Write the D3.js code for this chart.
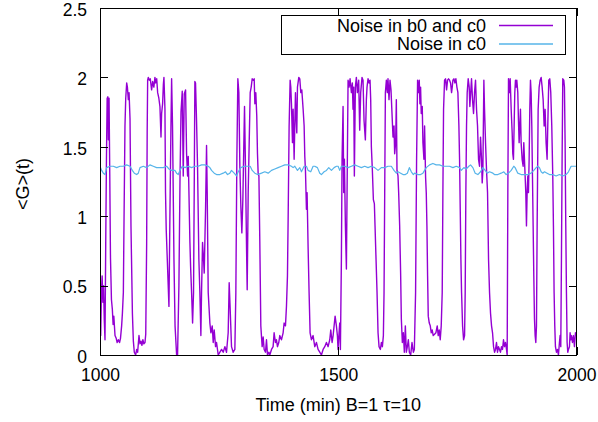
<!DOCTYPE html>
<html lang="en">
<head>
<meta charset="UTF-8">
<title>Noise G(t)</title>
<script src="https://d3js.org/d3.v7.min.js"></script>
<style>
    body { margin: 0; background: #fff; }
    svg { display: block; font-family: "Liberation Sans", Arial, sans-serif; }
</style>
</head>
<body>
<svg id="chart" width="598" height="422"></svg>
<script>
// time (min), <G>(t)
const noiseB0C0 = [
  [1000,0.21],[1001.5,0.14],[1003,0.45],[1004.5,0.57],[1006,0.38],[1007.5,0.5],[1009,0.25],[1010.5,0.11],
  [1012,0.8],[1013.5,1.4],[1015,1.85],[1016.5,1.86],[1017.5,1.55],[1019,1.85],[1020.5,1.3],[1022,0.7],
  [1024,0.4],[1025.9,0.33],[1027.5,0.22],[1029,0.28],[1031.5,0.14],[1034,0.12],[1036,0.09],[1038.4,0.11],
  [1041,0.09],[1043,0.12],[1045.4,0.21],[1047,0.3],[1049,0.45],[1050.5,1.0],[1052.4,1.65],[1054,1.85],
  [1056,1.96],[1057.5,1.93],[1059.4,1.84],[1061,1.89],[1063,1.7],[1065,0.93],[1068,0.3],[1070,0.1],
  [1072,0.02],[1074.8,0.0],[1077,0.04],[1079,0.02],[1081.8,0.14],[1084,0.08],[1086,0.1],[1088,0.07],
  [1090,0.11],[1092,0.08],[1094.4,0.09],[1096,0.15],[1097.9,0.8],[1099,1.6],[1100,1.98],[1101.4,2.0],
  [1103.5,1.98],[1105.5,1.99],[1108.3,1.91],[1110.5,1.97],[1113,1.93],[1115.3,2.0],[1117,1.96],[1119,1.99],
  [1121,1.89],[1123.5,1.85],[1125.8,1.79],[1128,1.57],[1129.3,1.74],[1131.4,1.81],[1133,1.95],[1134.2,2.0],
  [1136.3,1.77],[1137.5,1.17],[1139,0.9],[1141.2,0.69],[1144.7,0.35],[1146.5,0.93],[1148.9,1.65],[1150.3,1.99],
  [1152.2,1.65],[1155.2,0.69],[1157.5,0.21],[1160.8,0.0],[1162.8,0.0],[1165.6,0.5],[1168,1.3],[1170,1.75],
  [1172.6,1.9],[1174.7,1.29],[1176.8,1.88],[1179.6,1.91],[1181.7,1.45],[1183.8,1.29],[1185.2,1.43],[1188.7,0.81],
  [1190.1,0.64],[1192.2,0.45],[1194.3,0.23],[1196.3,0.45],[1197.7,1.17],[1199.1,1.97],[1200.5,1.96],[1202.6,1.69],
  [1204.7,1.36],[1207.5,0.69],[1209.6,0.45],[1211.7,0.14],[1213.1,0.45],[1215.2,0.81],[1217.3,0.69],[1218.7,0.59],
  [1221.5,1.05],[1223.6,1.51],[1225,1.17],[1227.1,0.45],[1230.6,0.23],[1232.7,0.16],[1235.5,0.21],[1237.6,0.09],
  [1239.7,0.18],[1242.5,0.06],[1244.6,0.09],[1248.1,0.0],[1251.6,0.02],[1255.1,0.04],[1258.6,0.02],[1262.1,0.06],
  [1265.5,0.02],[1269,0.16],[1271.1,0.52],[1273.2,0.33],[1276,0.06],[1279.5,0.02],[1283,0.04],[1285.1,0.45],
  [1287.2,1.41],[1289.3,1.99],[1291.4,1.89],[1293.5,1.36],[1295.6,1.07],[1297.7,0.88],[1299.8,1.12],[1301.9,1.53],
  [1303.3,1.79],[1305.4,1.33],[1307.5,0.78],[1308.9,0.47],[1311,1.17],[1313.1,1.53],[1315.2,1.89],[1317.3,1.93],
  [1319.4,1.99],[1321.5,1.98],[1323.6,1.99],[1325,1.81],[1327,1.89],[1329,1.72],[1330.5,1.45],[1331.9,1.31],
  [1333.5,1.29],[1335.4,0.81],[1337.5,0.21],[1340.3,0.06],[1342.4,0.13],[1344.5,0.04],[1347.3,0.02],[1349.4,0.11],
  [1351.5,0.0],[1354.3,0.02],[1356.4,0.0],[1359.9,0.04],[1363.3,0.06],[1365.4,0.16],[1368.2,0.09],[1370.3,0.11],
  [1372.4,0.06],[1375.2,0.09],[1377.3,0.14],[1380.8,0.11],[1384.3,0.16],[1386.4,0.23],[1389.2,0.21],[1391.3,0.35],
  [1393.4,0.57],[1394.8,0.97],[1396.9,1.65],[1399,1.98],[1400.4,1.93],[1401.8,1.81],[1403.9,1.53],[1405.3,1.77],
  [1407.4,1.41],[1408.8,1.65],[1410.2,1.89],[1411.6,1.72],[1413,1.6],[1414.4,1.93],[1417.2,2.0],[1419.3,1.99],
  [1421.4,1.89],[1423.5,1.91],[1426.3,1.77],[1428.4,1.65],[1429.8,1.43],[1431.2,1.33],[1433.2,1.05],[1434.6,1.17],
  [1436.7,0.78],[1438.8,0.45],[1440.9,0.16],[1443.7,0.11],[1447.2,0.14],[1450.7,0.06],[1454.2,0.09],[1457.7,0.04],
  [1461.2,0.02],[1464.7,0.0],[1468.2,0.04],[1471.7,0.06],[1475.2,0.09],[1478.7,0.06],[1482.2,0.11],[1484.3,0.18],
  [1487.1,0.09],[1489.2,0.14],[1491.3,0.21],[1493.4,0.28],[1496.1,0.21],[1498.2,0.14],[1499.6,0.04],[1501.7,0.16],
  [1503.1,0.23],[1504.5,0.04],[1506.6,0.69],[1508,1.41],[1510.1,1.79],[1511.5,1.17],[1512.9,1.41],[1515,0.93],
  [1517.1,0.62],[1518.5,1.17],[1520.6,1.98],[1522.7,1.93],[1524.8,1.99],[1527.6,1.89],[1529.6,1.96],[1531,1.77],
  [1532.4,1.93],[1533.8,1.29],[1535.9,1.93],[1538,2.0],[1540.1,1.89],[1542.9,1.98],[1545,1.62],[1547.1,1.89],
  [1549.9,2.0],[1552,1.98],[1554.1,1.69],[1556.9,1.55],[1559,1.84],[1560.4,1.93],[1562.5,1.99],[1564.6,1.96],
  [1566.7,1.98],[1568.1,1.84],[1569.5,1.5],[1571.6,1.33],[1573.7,1.12],[1575.8,1.09],[1577.2,0.93],[1579.3,0.69],
  [1581.4,0.45],[1583.5,0.16],[1585.6,0.06],[1588.4,0.04],[1590.5,0.09],[1592.6,0.06],[1594.7,0.14],[1596.1,0.45],
  [1597.5,1.17],[1598.9,1.89],[1601,1.98],[1603,1.89],[1604.4,1.99],[1606.5,1.84],[1608.6,1.98],[1610.7,1.91],
  [1612.8,1.74],[1614.9,1.57],[1617,1.65],[1618.4,1.45],[1620.5,1.53],[1621.9,1.84],[1623.3,1.33],[1625.4,1.29],
  [1626.8,1.17],[1628.9,0.93],[1631,0.57],[1632.4,0.26],[1634.5,0.09],[1636.6,0.16],[1638.7,0.02],[1640.8,0.21],
  [1642.9,0.02],[1645,0.06],[1647.1,0.11],[1649.2,0.02],[1652,0.0],[1654.8,0.09],[1657.6,0.02],[1659.7,0.04],
  [1662.3,0.45],[1664.4,1.41],[1666.5,1.98],[1668.6,1.89],[1670,1.98],[1671.4,1.81],[1672.8,1.93],[1674.2,1.74],
  [1676.3,1.79],[1677.7,1.53],[1679.8,1.41],[1681.2,1.65],[1683.3,1.28],[1684.7,1.17],[1686.1,0.93],[1687.5,0.57],
  [1688.9,0.28],[1691,0.23],[1693.1,0.21],[1695.2,0.16],[1697.2,0.18],[1699.3,0.14],[1702.1,0.15],[1704.9,0.16],
  [1707.7,0.21],[1709.8,0.14],[1711.9,0.18],[1714,0.11],[1716.1,0.21],[1718.2,0.45],[1719.6,1.17],[1721,1.77],
  [1723.1,1.98],[1725.2,1.99],[1727.3,1.91],[1729.4,1.98],[1731.5,1.99],[1733.6,1.98],[1735.7,1.96],[1737.8,1.89],
  [1739.2,1.93],[1740.6,1.98],[1742.7,1.99],[1744.8,1.96],[1746.9,1.99],[1749,1.93],[1751.1,1.89],[1753.2,1.65],
  [1754.6,1.41],[1756,1.05],[1757.4,0.69],[1758.8,0.45],[1760.9,0.21],[1763,0.11],[1765.1,0.14],[1766.4,0.45],
  [1767.8,1.17],[1769.2,1.65],[1770.6,1.89],[1772.7,1.99],[1774.8,1.93],[1776.2,1.79],[1778.3,1.91],[1779.7,1.99],
  [1781.8,1.84],[1783.9,1.74],[1786,1.89],[1788.1,1.98],[1790.2,1.77],[1792.3,1.65],[1794.4,1.41],[1796.5,1.36],
  [1798.6,1.57],[1800.7,1.41],[1802.1,1.24],[1803.5,1.33],[1805.6,1.98],[1807,1.77],[1809.1,1.53],[1811.2,1.33],
  [1813.3,1.17],[1815.4,0.69],[1817.5,0.45],[1819.6,0.3],[1821.7,0.21],[1823.8,0.16],[1825.9,0.06],[1828,0.02],
  [1830,0.04],[1832.1,0.09],[1834.2,0.02],[1836.3,0.06],[1838.4,0.04],[1840.5,0.02],[1842.6,0.06],[1844.7,0.04],
  [1846.8,0.11],[1848.9,0.06],[1851,0.09],[1853.1,0.04],[1854.5,0.0],[1855.9,1.17],[1857.3,1.99],[1859.4,1.89],
  [1860.8,1.99],[1862.9,1.77],[1865,1.6],[1866.3,1.45],[1867.7,1.41],[1869.1,1.65],[1870.5,1.89],[1871.9,1.98],
  [1873.3,1.93],[1874.7,1.98],[1876.8,1.89],[1878.2,1.69],[1879.6,1.53],[1881,1.65],[1882.4,1.77],[1883.8,1.53],
  [1885.9,1.41],[1888,1.36],[1889.4,1.53],[1890.8,1.41],[1892.2,1.29],[1893.6,1.17],[1895,0.93],[1896.4,1.17],
  [1897.8,1.29],[1899.2,1.17],[1900.6,1.41],[1902,1.77],[1903.4,1.98],[1904.8,1.89],[1906.2,1.65],[1907.6,1.29],
  [1909,0.93],[1910.4,0.57],[1911.8,0.26],[1913.2,0.14],[1914.6,0.09],[1916,0.21],[1917.4,0.93],[1919.5,1.77],
  [1921.6,1.93],[1923.7,1.98],[1925.8,2.0],[1927.9,1.93],[1930,1.84],[1932.1,1.65],[1934.1,1.77],[1936.2,1.53],
  [1938.3,1.41],[1939.7,1.65],[1941.8,1.98],[1943.9,1.99],[1946,1.89],[1948.1,1.65],[1950.2,1.29],[1951.6,0.93],
  [1953,0.45],[1954.4,0.21],[1955.8,0.06],[1957.9,0.02],[1960,0.04],[1962.1,0.0],[1964.2,0.09],[1965.6,0.14],
  [1967,0.06],[1968.4,0.69],[1969.8,1.41],[1971.2,1.99],[1973.3,1.98],[1974.7,1.93],[1976.1,1.53],[1977.5,0.93],
  [1978.9,0.45],[1980.3,0.09],[1981.7,0.02],[1983.1,0.04],[1985.2,0.06],[1986.6,0.16],[1988,0.11],[1989.4,0.14],
  [1991.5,0.09],[1993.6,0.14],[1995.7,0.06],[1997.8,0.16],[2000,0.14]
];

const noiseC0 = [
  [1000,1.36],[1003.5,1.33],[1007,1.31],[1010.5,1.30],[1014,1.35],[1021,1.36],[1028,1.36],[1035,1.35],
  [1042,1.36],[1049,1.36],[1056,1.37],[1063,1.36],[1067.8,1.33],[1072,1.31],[1076.9,1.30],[1080.4,1.31],
  [1083.9,1.35],[1090.9,1.36],[1097.8,1.35],[1104.8,1.37],[1111.8,1.36],[1118.8,1.35],[1125.8,1.35],[1132.8,1.35],
  [1139.8,1.36],[1144.7,1.34],[1150.3,1.33],[1157.2,1.33],[1160.7,1.31],[1164.2,1.30],[1167.7,1.33],[1172.6,1.36],
  [1178.2,1.35],[1185.2,1.36],[1192.2,1.35],[1199.1,1.36],[1206.1,1.36],[1213.1,1.37],[1220.1,1.37],[1227.1,1.36],
  [1230.6,1.35],[1234.1,1.33],[1239.7,1.31],[1244.6,1.30],[1251.6,1.30],[1258.6,1.31],[1263.4,1.32],[1267.6,1.30],
  [1272.5,1.31],[1276,1.33],[1281.6,1.31],[1286.5,1.29],[1290,1.32],[1295.6,1.35],[1302.6,1.36],[1309.6,1.36],
  [1315.2,1.36],[1319.4,1.33],[1325,1.31],[1330.6,1.30],[1338.9,1.31],[1345.9,1.32],[1352.9,1.31],[1359.9,1.33],
  [1366.8,1.34],[1373.8,1.35],[1380.8,1.36],[1387.8,1.37],[1394.8,1.37],[1401.8,1.36],[1405.3,1.35],[1408.8,1.36],
  [1414.4,1.33],[1419.3,1.35],[1422.8,1.32],[1428.4,1.36],[1433.2,1.36],[1436.7,1.33],[1442.3,1.32],[1447.2,1.36],
  [1450.7,1.36],[1456.3,1.35],[1461.2,1.31],[1464.7,1.30],[1470.3,1.32],[1475.2,1.33],[1480.1,1.35],[1485.7,1.33],
  [1491.3,1.35],[1496.2,1.36],[1499.7,1.36],[1503.1,1.33],[1506.6,1.36],[1513.6,1.36],[1520.6,1.35],[1527.6,1.36],
  [1534.5,1.37],[1541.5,1.36],[1548.5,1.35],[1555.5,1.36],[1562.5,1.35],[1569.5,1.36],[1576.5,1.35],[1583.5,1.33],
  [1590.5,1.35],[1597.5,1.35],[1604.4,1.36],[1611.4,1.36],[1617,1.33],[1621.9,1.31],[1625.4,1.32],[1631,1.31],
  [1635.9,1.30],[1640.8,1.30],[1645,1.31],[1649.2,1.35],[1653.4,1.32],[1657.6,1.30],[1660.2,1.31],[1667.2,1.30],
  [1672.8,1.30],[1677.7,1.31],[1684.7,1.35],[1691.7,1.37],[1698.6,1.38],[1705.6,1.37],[1712.6,1.37],[1719.6,1.36],
  [1726.6,1.36],[1733.6,1.36],[1740.6,1.35],[1747.6,1.36],[1754.6,1.35],[1758.1,1.33],[1763.7,1.35],[1768.5,1.34],
  [1774.1,1.36],[1777.6,1.37],[1782.5,1.35],[1787.4,1.31],[1793,1.30],[1798.6,1.32],[1803.5,1.35],[1808.4,1.33],
  [1812.6,1.31],[1817.5,1.32],[1824.5,1.31],[1827.9,1.30],[1834.9,1.30],[1841.9,1.31],[1847.5,1.32],[1852.4,1.30],
  [1857.3,1.31],[1862.9,1.33],[1868.4,1.36],[1871.2,1.35],[1876.8,1.31],[1883.8,1.30],[1890.8,1.30],[1897.8,1.30],
  [1904.8,1.31],[1910.4,1.33],[1915.3,1.35],[1918.8,1.36],[1922.3,1.35],[1925.8,1.32],[1929.3,1.31],[1932.8,1.32],
  [1938.3,1.31],[1943.2,1.30],[1950.2,1.30],[1957.2,1.29],[1964.2,1.30],[1971.2,1.29],[1978.2,1.30],[1983.1,1.32],
  [1988.7,1.36],[1994.3,1.36],[2000,1.36]
];

const xTicks = [1000, 1500, 2000];
const yTicks = [0, 0.5, 1, 1.5, 2, 2.5];
const seriesNames = ["Noise in b0 and c0", "Noise in c0"];
const seriesColors = ["#9400d3", "#56b4e9"];

const svg = d3.select("#chart");
const plotLeft = 100, plotRight = 576.5, plotTop = 8, plotBottom = 355;

const x = d3.scaleLinear().domain([1000, 2000]).range([plotLeft, plotRight]);
const y = d3.scaleLinear().domain([0, 2.5]).range([plotBottom, plotTop]);

svg.append("clipPath").attr("id", "plot-clip")
  .append("rect").attr("x", plotLeft).attr("y", plotTop)
  .attr("width", plotRight - plotLeft).attr("height", plotBottom - plotTop);

const line = d3.line().x(d => x(d[0])).y(d => y(d[1]));

const plot = svg.append("g").attr("clip-path", "url(#plot-clip)");
[noiseB0C0, noiseC0].forEach((s, i) => {
  plot.append("path")
    .datum(s)
    .attr("fill", "none")
    .attr("stroke", seriesColors[i])
    .attr("stroke-width", i === 0 ? 1.4 : 1.2)
    .attr("stroke-linejoin", "round")
    .attr("d", line);
});

// axes, gnuplot style: ticks pointing in, mirrored
const tickFont = "17.5px";
const axB = svg.append("g").attr("transform", `translate(0,${plotBottom})`)
  .call(d3.axisBottom(x).tickValues(xTicks).tickSize(-8).tickPadding(14).tickFormat(d3.format("d")));
const axT = svg.append("g").attr("transform", `translate(0,${plotTop})`)
  .call(d3.axisTop(x).tickValues(xTicks).tickSize(-8).tickFormat(""));
const axL = svg.append("g").attr("transform", `translate(${plotLeft},0)`)
  .call(d3.axisLeft(y).tickValues(yTicks).tickSize(-8).tickPadding(13).tickFormat(d => d));
const axR = svg.append("g").attr("transform", `translate(${plotRight},0)`)
  .call(d3.axisRight(y).tickValues(yTicks).tickSize(-8).tickFormat(""));

[axB, axT, axL, axR].forEach(a => {
  a.select(".domain").remove();
  a.selectAll("line").attr("stroke", "#000").attr("shape-rendering", "crispEdges");
  a.selectAll("text").attr("font-size", tickFont).attr("font-family", "Liberation Sans, Arial, sans-serif").attr("fill", "#000");
});
axL.selectAll("text").attr("dy", "0.42em");

svg.append("rect")
  .attr("x", plotLeft).attr("y", plotTop)
  .attr("width", plotRight - plotLeft).attr("height", plotBottom - plotTop)
  .attr("fill", "none").attr("stroke", "#000").attr("stroke-width", 1)
  .attr("shape-rendering", "crispEdges");

// legend
const legend = svg.append("g");
legend.append("rect")
  .attr("x", 281).attr("y", 15.5).attr("width", 284).attr("height", 39)
  .attr("fill", "#fff").attr("stroke", "#000").attr("stroke-width", 1)
  .attr("shape-rendering", "crispEdges");
seriesNames.forEach((name, i) => {
  const cy = 25.5 + i * 18.5;
  legend.append("text")
    .attr("x", 486).attr("y", cy)
    .attr("dy", "0.35em")
    .attr("text-anchor", "end")
    .attr("font-size", "18px")
    .text(name);
  legend.append("line")
    .attr("x1", 499).attr("x2", 553)
    .attr("y1", cy).attr("y2", cy)
    .attr("stroke", seriesColors[i]).attr("stroke-width", 1.3);
});

// axis titles
svg.append("text")
  .attr("x", (plotLeft + plotRight) / 2).attr("y", 405)
  .attr("dy", "0.35em")
  .attr("text-anchor", "middle")
  .attr("font-size", "18px")
  .text("Time (min) B=1 τ=10");

svg.append("text")
  .attr("transform", "translate(23,184) rotate(-90)")
  .attr("dy", "0.35em")
  .attr("text-anchor", "middle")
  .attr("font-size", "18px")
  .text("<G>(t)");
</script>
</body>
</html>
